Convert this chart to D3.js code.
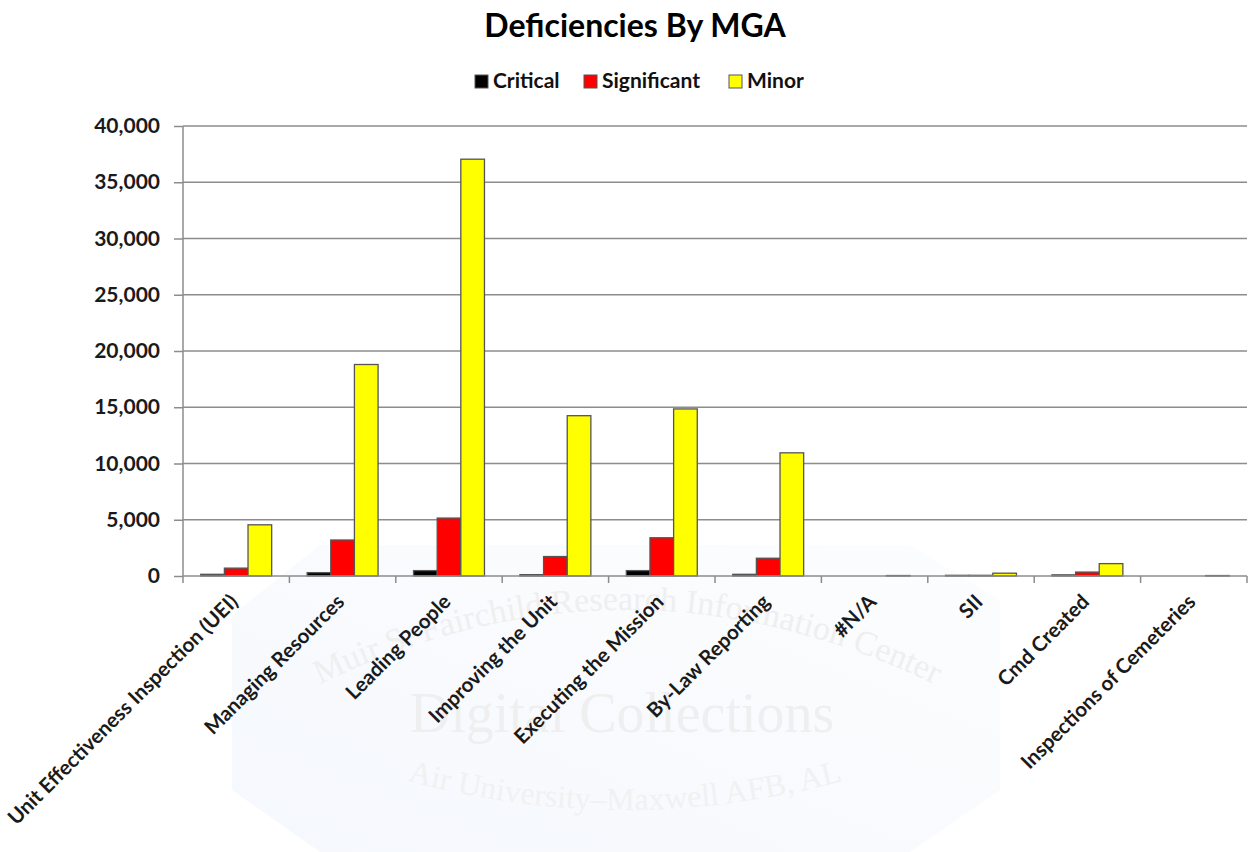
<!DOCTYPE html>
<html>
<head>
<meta charset="utf-8">
<script src="https://cdn.jsdelivr.net/npm/d3@7"></script>
<style>
  body { margin: 0; background: #fff; }
  svg { display: block; font-family: Lato, "Open Sans", sans-serif; }
</style>
</head>
<body>
<svg id="chart" width="1249" height="852"></svg>
<script>
// chart data
const categories = ['Unit Effectiveness Inspection (UEI)', 'Managing Resources', 'Leading People',
    'Improving the Unit', 'Executing the Mission', 'By-Law Reporting', '#N/A', 'SII',
    'Cmd Created', 'Inspections of Cemeteries'];
const seriesNames = ['Critical', 'Significant', 'Minor'];
const critical = [150, 300, 480, 120, 480, 150, 0, 60, 100, 0];
const significant = [700, 3200, 5150, 1730, 3400, 1580, 0, 60, 350, 0];
const minor = [4550, 18800, 37050, 14250, 14850, 10950, 40, 250, 1100, 40];
const yTicks = [0, 5000, 10000, 15000, 20000, 25000, 30000, 35000, 40000];
const colors = ['#000000', '#ff0000', '#ffff00'];

const svg = d3.select('#chart');
const margin = {left: 183, right: 2, top: 126, bottom: 276};
const width = 1249 - margin.left - margin.right;
const height = 852 - margin.top - margin.bottom;

// faint watermark behind the chart
function drawWatermark() {
    let wm = svg.append('g');
    let defs = svg.append('defs');
    let grad = defs.append('linearGradient')
        .attr('id', 'wmGrad').attr('x1', 0).attr('x2', 1).attr('y1', 1).attr('y2', 0);
    grad.append('stop').attr('offset', '0%').attr('stop-color', '#f5f8fd');
    grad.append('stop').attr('offset', '100%').attr('stop-color', '#fcfdfe');
    wm.append('path')
        .attr('d', 'M232,615 L320,545 L910,545 L1000,600 L1000,790 L910,852 L320,852 L232,790 Z')
        .attr('fill', 'url(#wmGrad)');
    defs.append('path').attr('id', 'arcTop')
        .attr('d', 'M280,705 Q625,515 975,705');
    defs.append('path').attr('id', 'arcBot')
        .attr('d', 'M370,770 Q625,850 880,770');
    wm.append('text').attr('font-family', '"Liberation Serif", serif').attr('font-size', 34)
        .attr('fill', '#efefef')
        .append('textPath').attr('href', '#arcTop').attr('startOffset', '50%')
        .attr('text-anchor', 'middle').text('Muir S. Fairchild Research Information Center');
    wm.append('text').attr('x', 622).attr('y', 732).attr('text-anchor', 'middle')
        .attr('font-family', '"Liberation Serif", serif').attr('font-size', 56)
        .attr('fill', '#efefef').text('Digital Collections');
    wm.append('text').attr('font-family', '"Liberation Serif", serif').attr('font-size', 32)
        .attr('fill', '#f1f1f1')
        .append('textPath').attr('href', '#arcBot').attr('startOffset', '50%')
        .attr('text-anchor', 'middle').text('Air University\u2013Maxwell AFB, AL');
}

drawWatermark();

const g = svg.append('g').attr('transform', 'translate(' + margin.left + ',' + margin.top + ')');

const x0 = d3.scaleBand().domain(categories).range([0, width]).paddingInner(0).paddingOuter(0);
const x1 = d3.scaleBand().domain(seriesNames).range([0, x0.bandwidth()]).paddingInner(0).paddingOuter(0.75);
const y = d3.scaleLinear().domain([0, 40000]).range([height, 0]);

// gridlines
g.append('g')
    .selectAll('line')
    .data(yTicks.slice(1))
    .enter().append('line')
    .attr('x1', 0).attr('x2', width)
    .attr('y1', function(d) { return y(d); })
    .attr('y2', function(d) { return y(d); })
    .attr('stroke', '#8c8c8c').attr('stroke-width', 1.5);

// y axis
const yAxis = g.append('g')
    .call(d3.axisLeft(y).tickValues(yTicks).tickSize(9).tickPadding(14).tickFormat(d3.format(',')));
yAxis.selectAll('line').attr('stroke', '#8c8c8c').attr('stroke-width', 1.5);
yAxis.select('.domain').attr('stroke', '#8c8c8c').attr('stroke-width', 1.5).attr('d', 'M0,0V' + height);
yAxis.selectAll('text')
    .attr('font-family', 'Lato, sans-serif').attr('font-size', 21)
    .attr('font-weight', 'bold').attr('fill', '#1a1a1a');

// bars
const rows = categories.map(function(c, i) {
    return {cat: c, vals: [critical[i], significant[i], minor[i]]};
});
const groups = g.append('g').selectAll('g')
    .data(rows)
    .enter().append('g')
    .attr('transform', function(d) { return 'translate(' + x0(d.cat) + ',0)'; });
groups.selectAll('rect')
    .data(function(d) { return d.vals.map(function(v, k) { return {k: k, v: v}; }); })
    .enter().filter(function(d) { return d.v > 0; })
    .append('rect')
    .attr('x', function(d) { return x1(seriesNames[d.k]); })
    .attr('y', function(d) { return y(d.v); })
    .attr('width', x1.bandwidth())
    .attr('height', function(d) { return height - y(d.v); })
    .attr('fill', function(d) { return colors[d.k]; })
    .attr('stroke', '#555').attr('stroke-width', 1.3);

// x axis
const bounds = d3.range(categories.length + 1).map(function(i) { return i * x0.step(); });
const xAxis = g.append('g').attr('transform', 'translate(0,' + height + ')');
xAxis.append('line').attr('x1', 0).attr('x2', width).attr('y1', 0).attr('y2', 0)
    .attr('stroke', '#8c8c8c').attr('stroke-width', 1.5);
xAxis.selectAll('line.tick')
    .data(bounds)
    .enter().append('line').attr('class', 'tick')
    .attr('x1', function(d) { return d; }).attr('x2', function(d) { return d; })
    .attr('y1', 0).attr('y2', 7)
    .attr('stroke', '#8c8c8c').attr('stroke-width', 1.5);
xAxis.selectAll('text')
    .data(categories)
    .enter().append('text')
    .attr('transform', function(d) {
        return 'translate(' + (x0(d) + x0.bandwidth() / 2 - 2) + ',22) rotate(-45)';
    })
    .attr('text-anchor', 'end')
    .attr('dy', '0.35em')
    .attr('font-size', 20.5).attr('font-weight', 'bold').attr('fill', '#1a1a1a')
    .text(function(d) { return d; });

// title
svg.append('text')
    .attr('x', 635).attr('y', 37)
    .attr('text-anchor', 'middle')
    .attr('font-size', 32).attr('font-weight', 'bold').attr('fill', '#000')
    .text('Deficiencies By MGA');

// legend
const legendX = [475, 584, 729];
const legend = svg.append('g').selectAll('g')
    .data(seriesNames)
    .enter().append('g')
    .attr('transform', function(d, i) { return 'translate(' + legendX[i] + ',75)'; });
legend.append('rect')
    .attr('width', 13).attr('height', 13)
    .attr('fill', function(d, i) { return colors[i]; })
    .attr('stroke', '#555').attr('stroke-width', 1);
legend.append('text')
    .attr('x', 18).attr('y', 13)
    .attr('font-size', 21).attr('font-weight', 'bold').attr('fill', '#111')
    .text(function(d) { return d; });
</script>
</body>
</html>
